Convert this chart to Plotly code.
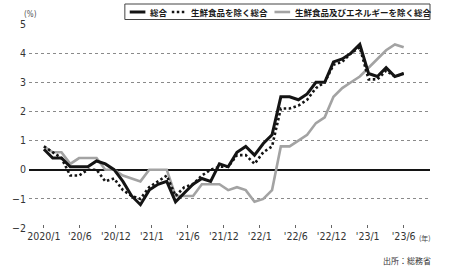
import plotly.graph_objects as go

# ---- data (YoY %, 2020/1 .. 2023/6, monthly) ----
headline = [0.7, 0.4, 0.4, 0.1, 0.1, 0.1, 0.3, 0.2, 0.0, -0.4, -0.9, -1.2,
            -0.7, -0.5, -0.4, -1.1, -0.8, -0.5, -0.3, -0.4, 0.2, 0.1, 0.6, 0.8,
            0.5, 0.9, 1.2, 2.5, 2.5, 2.4, 2.6, 3.0, 3.0, 3.7, 3.8, 4.0,
            4.3, 3.3, 3.2, 3.5, 3.2, 3.3]
core = [0.8, 0.6, 0.4, -0.2, -0.2, 0.0, 0.0, -0.4, -0.3, -0.7, -0.9, -1.0,
        -0.6, -0.4, -0.2, -0.9, -0.6, -0.5, -0.2, 0.0, 0.1, 0.1, 0.5, 0.5,
        0.2, 0.6, 0.8, 2.1, 2.1, 2.2, 2.4, 2.8, 3.0, 3.6, 3.7, 4.0,
        4.2, 3.1, 3.1, 3.4, 3.2, 3.3]
corecore = [0.8, 0.6, 0.6, 0.2, 0.4, 0.4, 0.4, 0.0, 0.0, -0.2, -0.3, -0.4,
            0.0, 0.0, 0.0, -0.9, -0.9, -0.9, -0.5, -0.5, -0.5, -0.7, -0.6, -0.7,
            -1.1, -1.0, -0.7, 0.8, 0.8, 1.0, 1.2, 1.6, 1.8, 2.5, 2.8, 3.0,
            3.2, 3.5, 3.8, 4.1, 4.3, 4.2]
months = list(range(len(headline)))
tick_labels = ["2020/1", "'20/6", "'20/12", "'21/1", "'21/6", "'21/12",
               "'22/1", "'22/6", "'22/12", "'23/1", "'23/6"]
series_names = ["総合", "生鮮食品を除く総合", "生鮮食品及びエネルギーを除く総合"]
source_text = "出所：総務省"

n = len(months)
tickvals = [(n - 1) * j / (len(tick_labels) - 1) for j in range(len(tick_labels))]

W, H = 450, 272
L, R, T, B = 20, 20, 24, 44
PW, PH = W - L - R, H - T - B

def px2x(px):
    return (px - L) / PW

def px2y(py):
    return (H - B - py) / PH

BLACK = "#141414"
GRAY = "#a3a3a3"
NUMFONT = "Liberation Sans Narrow, DejaVu Sans Condensed, Arial Narrow, sans-serif"
CJK = "Noto Sans CJK JP"

fig = go.Figure()
fig.add_trace(go.Scatter(x=months, y=corecore, mode="lines", name=series_names[2],
                         line=dict(color=GRAY, width=2.6)))
fig.add_trace(go.Scatter(x=months, y=core, mode="lines", name=series_names[1],
                         line=dict(color=BLACK, width=2.6, dash="2.5px,2.5px")))
fig.add_trace(go.Scatter(x=months, y=headline, mode="lines", name=series_names[0],
                         line=dict(color=BLACK, width=3)))

fig.update_layout(
    width=W, height=H,
    margin=dict(l=L, r=R, t=T, b=B),
    paper_bgcolor="white", plot_bgcolor="white",
    showlegend=False,
    xaxis=dict(range=[-1.7, 44.0], tickvals=tickvals, ticktext=tick_labels,
               showgrid=False, zeroline=False, showline=False,
               ticks="inside", ticklen=3, tickwidth=1, tickcolor="#666",
               tickfont=dict(family=NUMFONT, size=10.5, color="#333")),
    yaxis=dict(range=[-2, 5], dtick=1, showgrid=True, gridcolor="#8a8a8a",
               griddash="dot", gridwidth=1,
               zeroline=True, zerolinecolor=BLACK, zerolinewidth=1.6,
               showline=False, ticks="", ticklabelstandoff=2,
               tickfont=dict(family=NUMFONT, size=10.5, color="#333")),
)

# ---- custom legend ----
shapes = [dict(type="rect", xref="paper", yref="paper",
               x0=px2x(118), x1=px2x(430), y0=px2y(19.5), y1=px2y(4),
               line=dict(color="#444", width=1), fillcolor="white")]
legend_items = [
    (123, 139, 142, dict(color=BLACK, width=3)),
    (166, 181, 184, dict(color=BLACK, width=2.6, dash="2.5px,2.5px")),
    (271, 287, 290, dict(color=GRAY, width=2.6)),
]
annotations = []
for (x0, x1, tx, ln), name in zip(legend_items, series_names):
    shapes.append(dict(type="line", xref="paper", yref="paper",
                       x0=px2x(x0), x1=px2x(x1), y0=px2y(12), y1=px2y(12), line=ln))
    annotations.append(dict(text=name, xref="paper", yref="paper",
                            x=px2x(tx), y=px2y(12), xanchor="left", yanchor="middle",
                            showarrow=False,
                            font=dict(family=CJK, size=8.5, color="#1a1a1a", weight=700)))

annotations += [
    dict(text="(%)", xref="paper", yref="paper", x=px2x(13), y=px2y(15),
         xanchor="left", yanchor="middle", showarrow=False,
         font=dict(family=NUMFONT, size=8, color="#555")),
    dict(text="(年)", xref="paper", yref="paper", x=px2x(417), y=px2y(238),
         xanchor="left", yanchor="middle", showarrow=False,
         font=dict(family=CJK, size=7, color="#444")),
    dict(text=source_text, xref="paper", yref="paper", x=px2x(433), y=px2y(260),
         xanchor="right", yanchor="middle", showarrow=False,
         font=dict(family=CJK, size=8, color="#333")),
]
fig.update_layout(shapes=shapes, annotations=annotations)

fig.write_html("out.html")
